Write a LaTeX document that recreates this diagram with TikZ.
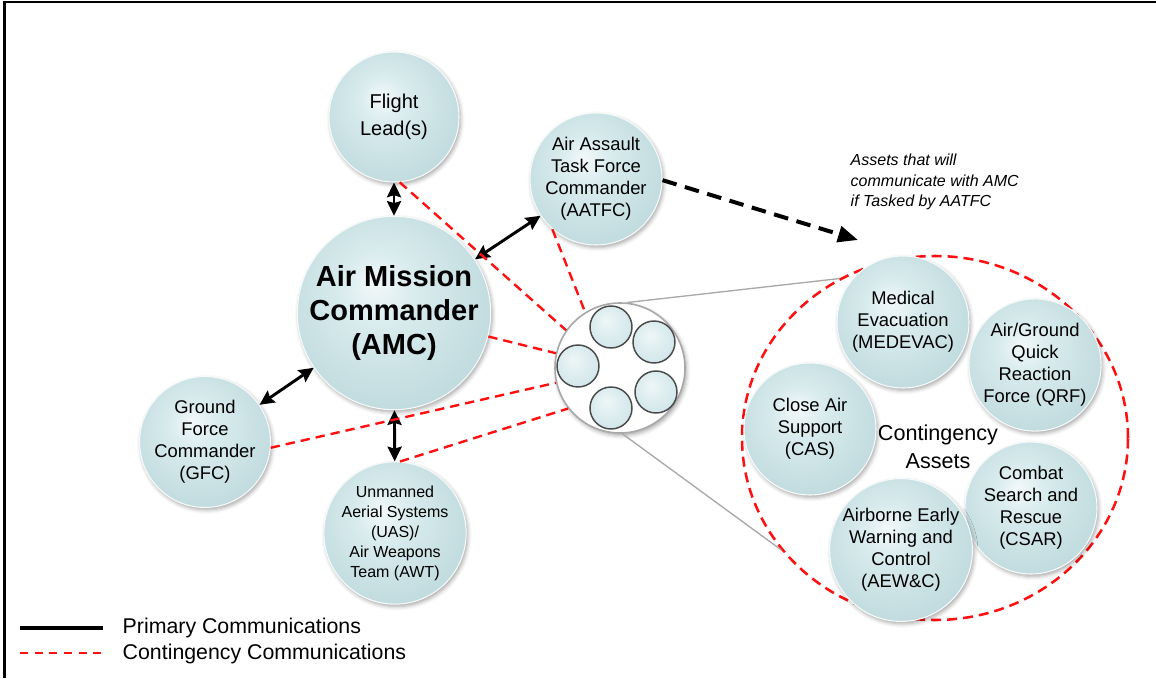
\documentclass[tikz,border=0pt]{standalone}
\usepackage{fontspec}
\setmainfont{Liberation Sans}
\usetikzlibrary{arrows.meta,shadows.blur,shapes.geometric}

\definecolor{bubA}{HTML}{F2F8F9}
\definecolor{bubB}{HTML}{D8EBED}
\definecolor{bubC}{HTML}{BFDADD}
\definecolor{miniA}{HTML}{EEF6F7}
\definecolor{miniB}{HTML}{D2E7EA}
\definecolor{rimc}{HTML}{F6FAFA}
\definecolor{contred}{HTML}{FF1010}
\definecolor{zoomgray}{HTML}{A8A8A8}
\definecolor{miniedge}{HTML}{4A4A4A}

% glossy fill of the circles: bright spot up and to the left
\pgfdeclareradialshading{bubble}{\pgfpoint{-5bp}{8bp}}{%
  color(0bp)=(bubA); color(10bp)=(bubB); color(30bp)=(bubC); color(50bp)=(bubC)}
\pgfdeclareradialshading{minifill}{\pgfpoint{-6bp}{8bp}}{%
  color(0bp)=(miniA); color(28bp)=(miniB); color(50bp)=(miniB)}

\newcommand\fsmain{\fontsize{13.8pt}{16.5pt}\selectfont}
\newcommand\fsflight{\fontsize{15pt}{20pt}\selectfont}
\newcommand\fssmall{\fontsize{12pt}{15pt}\selectfont}
\newcommand\fsbig{\fontsize{21.75pt}{25.5pt}\selectfont\bfseries}
\newcommand\fsca{\fontsize{16.2pt}{21pt}\selectfont}
\newcommand\fsital{\fontsize{12pt}{15.5pt}\selectfont\itshape}
\newcommand\fsleg{\fontsize{16pt}{19pt}\selectfont}

\tikzset{
  bubble/.style={circle, inner sep=0pt, align=center, text=black,
    shade, shading=bubble, draw=rimc, line width=0.8pt,
    blur shadow={shadow xshift=1.2pt, shadow yshift=-1.8pt,
      shadow blur radius=3pt, shadow opacity=35},
    minimum size=#1},
  bubble/.default=99pt,
  mini/.style={circle, inner sep=0pt, minimum size=31.5pt,
    shade, shading=minifill, draw=miniedge, line width=1.1pt},
  prim/.style={line width=2.2pt,
    {Stealth[length=11pt,width=10.5pt,inset=1.5pt]}-{Stealth[length=11pt,width=10.5pt,inset=1.5pt]}},
  cont/.style={draw=contred, line width=1.8pt, dash pattern=on 7pt off 4.5pt},
  task/.style={line width=3pt, dash pattern=on 11pt off 6.5pt,
    -{Triangle[length=15pt,width=12pt]}},
}

\begin{document}
\begin{tikzpicture}[x=0.75pt,y=-0.75pt]
\useasboundingbox (0,0) rectangle (1156,678);

% page frame (left and top edges)
\draw[line width=2.2pt] (4.5,678) -- (4.5,2) -- (1156,2);

% contingency ring and the lines that join it to the group circle
\node[ellipse, draw=contred, line width=1.9pt, dash pattern=on 7.5pt off 4.5pt,
      minimum width=289.5pt, minimum height=273pt, inner sep=0pt] (ring) at (935,438) {};

% group of contingency assets
\node[circle, fill=white, draw=zoomgray, line width=1.2pt, minimum size=97.5pt,
      blur shadow={shadow xshift=1.2pt, shadow yshift=-1.8pt,
      shadow blur radius=3pt, shadow opacity=35}] (grp) at (620,368) {};
\draw[zoomgray, line width=1pt] (grp.84) -- (ring.121);
\draw[zoomgray, line width=1pt] (grp.272) -- (ring.216);
\node[mini] (m1) at (611,327) {};
\node[mini] (m2) at (654,342) {};
\node[mini] (m3) at (578,366) {};
\node[mini] (m4) at (656,392) {};
\node[mini] (m5) at (611,408) {};

% main command nodes
\node[bubble=97.5pt, font=\fsflight] (fl) at (394,117) {Flight\\Lead(s)};
\node[bubble=135pt, font=\fsbig] (amc) at (394,313) {Air Mission\\Commander\\(AMC)};
\node[bubble=99pt, font=\fsmain] (aatfc) at (596,179) {Air Assault\\Task Force\\Commander\\(AATFC)};
\node[bubble=97.5pt, font=\fsmain] (gfc) at (205,442) {Ground\\Force\\Commander\\(GFC)};
\node[bubble=100.5pt, font=\fssmall] (uas) at (395,533) {Unmanned\\Aerial Systems\\(UAS)/\\Air Weapons\\Team (AWT)};

% contingency assets
\node[bubble, font=\fsmain] (medevac) at (903,322) {Medical\\Evacuation\\(MEDEVAC)};
\node[bubble, font=\fsmain] (qrf) at (1035,365) {Air/Ground\\Quick\\Reaction\\Force (QRF)};
\node[bubble, font=\fsmain] (cas) at (810,429) {Close Air\\Support\\(CAS)};
\node[bubble, font=\fsmain] (csar) at (1031,508) {Combat\\Search and\\Rescue\\(CSAR)};
\node[bubble, font=\fsmain] (aewc) at (901,550) {Airborne Early\\Warning and\\Control\\(AEW\&C)};
\node[font=\fsca, align=center] (ca) at (938,447) {Contingency\\Assets};

% primary communications
\draw[prim] (fl) -- (amc);
\draw[prim] (amc) -- (aatfc);
\draw[prim] (amc) -- (gfc);
\draw[prim] (amc) -- (uas);

% contingency communications
\draw[cont] (fl.-85) -- (grp.145);
\draw[cont] (aatfc.229) -- (grp.122);
\draw[cont] (amc.-14) -- (grp.167);
\draw[cont] (gfc.-5) -- (grp.193);
\draw[cont] (uas.86) -- (grp.218);

% tasking arrow and its note
\coordinate (tip) at (858,240);
\draw[task] (aatfc.-1) -- (tip);
\node[font=\fsital, align=left, anchor=west] (note) at (846,182)
  {Assets that will\\communicate with AMC\\if Tasked by AATFC};

% legend
\coordinate (lpa) at (20,628);
\coordinate (lpb) at (103,628);
\coordinate (lca) at (20,653);
\coordinate (lcb) at (103,653);
\draw[line width=3pt] (lpa) -- (lpb);
\draw[draw=contred, line width=1.6pt, dash pattern=on 6pt off 5pt] (lca) -- (lcb);
\node[font=\fsleg, anchor=west] (lp) at (118,628) {Primary Communications};
\node[font=\fsleg, anchor=west] (lc) at (118,654) {Contingency Communications};
\end{tikzpicture}
\end{document}
